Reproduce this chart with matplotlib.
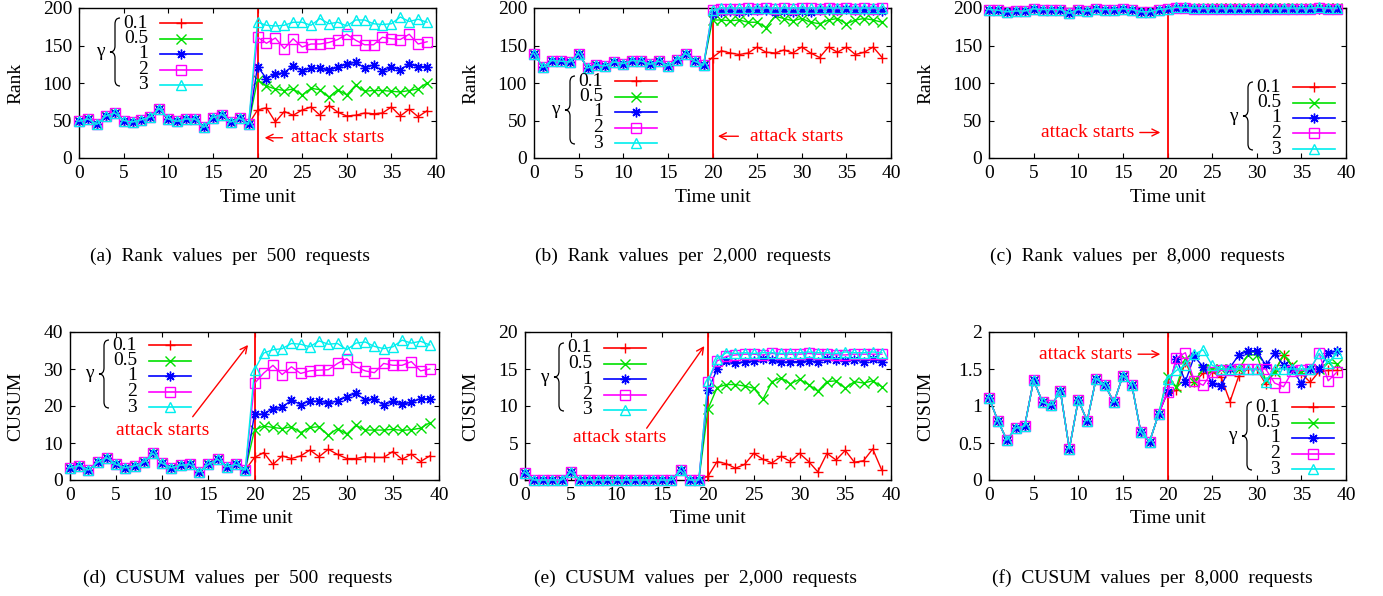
import numpy as np
import matplotlib
matplotlib.use("Agg")
import matplotlib.pyplot as plt
from matplotlib.lines import Line2D
from matplotlib.path import Path
from matplotlib.patches import PathPatch
from matplotlib.ticker import FuncFormatter

plt.rcParams["font.family"] = ["Liberation Serif", "DejaVu Serif"]

W, H = 1383, 596

# time units and attack start
t = np.arange(40)
attack_t = 20
gammas = ["0.1", "0.5", "1", "2", "3"]

# (a) rank per 500 requests
a_pre = [49, 52, 45, 56, 60, 50, 48, 51, 55, 66, 52, 49, 52, 52, 41, 54, 58, 48, 53, 45]
a_g01 = [64, 67, 48, 62, 57, 64, 68, 57, 70, 61, 56, 57, 60, 59, 60, 68, 56, 65, 55, 63]
a_g05 = [104, 96, 92, 90, 92, 84, 93, 91, 81, 91, 84, 97, 89, 90, 90, 89, 88, 90, 92, 100]
a_g1 = [122, 106, 112, 114, 123, 116, 120, 120, 117, 121, 125, 128, 120, 124, 116, 121, 118, 125, 122, 122]
a_g2 = [161, 153, 160, 146, 159, 148, 152, 152, 154, 158, 165, 157, 151, 151, 161, 159, 158, 165, 152, 155]
a_g3 = [181, 177, 176, 177, 181, 181, 177, 186, 179, 181, 176, 184, 184, 179, 178, 179, 188, 182, 185, 181]

# (b) rank per 2,000 requests
b_pre = [139, 121, 130, 129, 128, 139, 120, 124, 123, 128, 126, 130, 129, 125, 129, 123, 131, 139, 129, 124]
b_g01 = [134, 143, 140, 138, 140, 148, 141, 140, 144, 140, 148, 140, 134, 148, 141, 148, 138, 141, 148, 134]
b_g05 = [184, 184, 183, 184, 181, 181, 174, 189, 186, 183, 186, 181, 179, 184, 186, 179, 184, 186, 184, 181]
b_g1 = [192, 195, 196, 195, 196, 198, 197, 195, 196, 195, 196, 195, 197, 198, 198, 199, 198, 197, 198, 196]
b_g2 = [198, 199, 199, 199, 200, 199, 200, 199, 200, 199, 200, 200, 199, 200, 199, 200, 199, 200, 199, 200]
b_g3 = [197, 200, 200, 200, 200, 200, 200, 200, 200, 200, 200, 200, 200, 200, 200, 200, 200, 200, 200, 200]

# (c) rank per 8,000 requests
c_pre = [198, 197, 195, 196, 196, 199, 198, 198, 198, 193, 198, 196, 199, 198, 198, 199, 198, 195, 195, 198]
c_g01 = [199, 200, 200, 199, 200, 200, 200, 199, 200, 200, 200, 200, 200, 199, 200, 200, 200, 200, 200, 200]
c_g05 = [199, 200, 200, 200, 199, 200, 200, 200, 200, 199, 200, 200, 200, 200, 200, 199, 200, 200, 200, 200]
c_g1 = [199, 200, 200, 199, 199, 199, 199, 199, 199, 199, 199, 199, 199, 199, 199, 199, 199, 199, 199, 199]
c_g2 = [199, 200, 200, 199, 199, 199, 199, 199, 199, 199, 199, 199, 199, 199, 199, 199, 199, 200, 199, 199]
c_g3 = [199, 201, 201, 200, 200, 200, 200, 200, 200, 200, 200, 200, 200, 200, 200, 200, 200, 201, 200, 200]

# (d) CUSUM per 500 requests
d_pre = [3.3, 3.9, 2.7, 4.8, 6.0, 4.2, 3.3, 3.8, 4.8, 7.2, 4.5, 3.3, 4.0, 4.2, 2.2, 4.2, 5.6, 3.6, 4.2, 2.7]
d_g01 = [6.1, 7.4, 4.2, 6.5, 5.8, 6.5, 8.1, 6.3, 8.3, 6.9, 5.8, 5.8, 6.3, 6.1, 6.1, 7.7, 5.6, 7.0, 5.0, 6.5]
d_g05 = [13.5, 14.6, 14.2, 13.9, 14.4, 12.8, 14.2, 14.4, 12.1, 13.9, 12.4, 14.8, 13.5, 13.5, 13.5, 13.7, 13.4, 13.6, 14.0, 15.5]
d_g1 = [17.8, 17.8, 19.3, 19.6, 21.6, 20.4, 21.3, 21.3, 20.9, 21.3, 22.5, 23.4, 21.6, 22.0, 20.2, 21.3, 20.5, 21.0, 22.0, 22.0]
d_g2 = [26.1, 28.9, 31.0, 28.5, 30.6, 28.8, 29.5, 29.7, 29.8, 31.5, 32.8, 30.6, 29.5, 29.0, 31.5, 31.0, 31.0, 32.0, 29.5, 30.0]
d_g3 = [29.8, 34.3, 35.2, 35.5, 36.9, 36.7, 36.0, 37.6, 36.7, 36.9, 35.2, 37.0, 37.3, 36.1, 35.5, 36.0, 37.8, 37.0, 37.5, 36.5]

# (e) CUSUM per 2,000 requests
e_pre = [1.0, 0, 0, 0, 0, 1.1, 0, 0, 0, 0, 0, 0, 0, 0, 0, 0, 0, 1.3, 0, 0]
e_g01 = [0.5, 2.5, 2.2, 1.6, 2.1, 3.6, 2.8, 2.3, 3.2, 2.5, 3.6, 2.5, 1.1, 3.6, 2.7, 4.0, 2.4, 2.6, 4.2, 1.3]
e_g05 = [9.6, 12.5, 12.9, 12.9, 12.7, 12.4, 10.9, 13.3, 13.8, 13.0, 13.6, 12.9, 12.0, 13.3, 13.4, 12.4, 13.3, 13.1, 13.4, 12.6]
e_g1 = [12.1, 15.0, 16.1, 15.8, 16.0, 16.1, 16.3, 16.2, 15.9, 16.0, 16.0, 16.1, 16.0, 16.3, 16.2, 16.1, 16.2, 16.0, 16.3, 16.0]
e_g2 = [13.3, 16.1, 16.7, 16.9, 17.0, 17.0, 16.9, 17.1, 17.0, 17.0, 17.0, 17.1, 17.0, 17.0, 16.9, 16.9, 17.0, 17.0, 17.0, 17.0]
e_g3 = [13.4, 16.4, 17.2, 17.1, 17.2, 17.1, 17.2, 17.2, 17.1, 17.2, 17.2, 17.3, 17.2, 17.2, 17.1, 17.3, 17.2, 17.2, 17.3, 17.2]

# (f) CUSUM per 8,000 requests
f_pre = [1.11, 0.80, 0.54, 0.70, 0.73, 1.35, 1.05, 1.01, 1.20, 0.42, 1.08, 0.80, 1.37, 1.28, 1.05, 1.41, 1.29, 0.65, 0.52, 0.89]
f_g01 = [1.18, 1.21, 1.60, 1.33, 1.44, 1.46, 1.39, 1.06, 1.41, 1.50, 1.50, 1.30, 1.47, 1.69, 1.53, 1.44, 1.32, 1.47, 1.48, 1.48]
f_g05 = [1.39, 1.26, 1.64, 1.33, 1.50, 1.50, 1.50, 1.50, 1.50, 1.69, 1.69, 1.35, 1.46, 1.69, 1.55, 1.46, 1.50, 1.50, 1.59, 1.57]
f_g1 = [1.19, 1.64, 1.33, 1.67, 1.53, 1.31, 1.27, 1.52, 1.69, 1.74, 1.75, 1.55, 1.71, 1.55, 1.50, 1.30, 1.50, 1.50, 1.71, 1.75]
f_g2 = [1.19, 1.65, 1.72, 1.34, 1.28, 1.46, 1.48, 1.48, 1.50, 1.50, 1.50, 1.50, 1.31, 1.26, 1.47, 1.48, 1.50, 1.71, 1.34, 1.46]
f_g3 = [1.37, 1.48, 1.55, 1.70, 1.76, 1.55, 1.50, 1.50, 1.50, 1.50, 1.50, 1.33, 1.50, 1.50, 1.50, 1.50, 1.50, 1.71, 1.58, 1.71]

captions = [
    "(a)  Rank  values  per  500  requests",
    "(b)  Rank  values  per  2,000  requests",
    "(c)  Rank  values  per  8,000  requests",
    "(d)  CUSUM  values  per  500  requests",
    "(e)  CUSUM  values  per  2,000  requests",
    "(f)  CUSUM  values  per  8,000  requests",
]

colors = ["#ff0000", "#00e000", "#0000ff", "#ff00ff", "#00eeee"]
markers = ["+", "x", (8, 2, 0), "s", "^"]

# layout: axes rect in pixels (left, top, width, height), key anchor, annotation
panels = [
    dict(pre=a_pre, post=[a_g01, a_g05, a_g1, a_g2, a_g3], rect=(79, 8, 357, 150), ymax=200, ystep=50,
         ylabel="Rank", key=(69, 15), text=(23.7, 27, "left"), tail=(22.8, 27), head=(20.8, 27), cap=(230, 256)),
    dict(pre=b_pre, post=[b_g01, b_g05, b_g1, b_g2, b_g3], rect=(534, 8, 357, 150), ymax=200, ystep=50,
         ylabel="Rank", key=(69, 73), text=(24.2, 29, "left"), tail=(22.9, 29), head=(20.6, 29), cap=(683, 256)),
    dict(pre=c_pre, post=[c_g01, c_g05, c_g1, c_g2, c_g3], rect=(989, 8, 357, 150), ymax=200, ystep=50,
         ylabel="Rank", key=(292, 79), text=(16.3, 34, "right"), tail=(16.9, 34), head=(19.2, 34), cap=(1137, 256)),
    dict(pre=d_pre, post=[d_g01, d_g05, d_g1, d_g2, d_g3], rect=(70, 332, 369, 148), ymax=40, ystep=10,
         ylabel="CUSUM", key=(67, 13), text=(10.1, 13.5, "center"), tail=(13.3, 17.1), head=(19.3, 36.5), cap=(238, 578)),
    dict(pre=e_pre, post=[e_g01, e_g05, e_g1, e_g2, e_g3], rect=(525, 332, 366, 148), ymax=20, ystep=5,
         ylabel="CUSUM", key=(67, 16), text=(10.4, 5.7, "center"), tail=(13.3, 7.0), head=(19.6, 18.1), cap=(695, 578)),
    dict(pre=f_pre, post=[f_g01, f_g05, f_g1, f_g2, f_g3], rect=(989, 332, 357, 148), ymax=2, ystep=0.5,
         ylabel="CUSUM", key=(291, 75), text=(16.1, 1.70, "right"), tail=(16.7, 1.70), head=(19.2, 1.70), cap=(1152, 578)),
]

FS = 14
KEY_FS = 14
ROW = 15.5


def fx(px):
    return px / W


def fy(py):
    return 1 - py / H


def draw_brace(fig, x_tip, x_end, y_top, y_bot):
    xm = (x_tip + x_end) / 2
    ymid = (y_top + y_bot) / 2
    r = 6
    verts = [
        (x_end, y_top), (xm, y_top), (xm, y_top + r),
        (xm, ymid - r),
        (xm, ymid), (x_tip, ymid),
        (xm, ymid), (xm, ymid + r),
        (xm, y_bot - r),
        (xm, y_bot), (x_end, y_bot),
    ]
    codes = [Path.MOVETO, Path.CURVE3, Path.CURVE3, Path.LINETO,
             Path.CURVE3, Path.CURVE3, Path.CURVE3, Path.CURVE3,
             Path.LINETO, Path.CURVE3, Path.CURVE3]
    verts = [(fx(x), fy(y)) for x, y in verts]
    fig.add_artist(PathPatch(Path(verts, codes), facecolor="none", edgecolor="black",
                             lw=0.9, transform=fig.transFigure))


def draw_key(fig, rect, key):
    x_lab = rect[0] + key[0]
    y0 = rect[1] + key[1]
    for i, g in enumerate(gammas):
        y = y0 + i * ROW
        fig.text(fx(x_lab), fy(y), g, ha="right", va="center", fontsize=KEY_FS)
        fig.add_artist(Line2D([fx(x_lab + 12), fx(x_lab + 54)], [fy(y), fy(y)],
                              color=colors[i], lw=1.2, transform=fig.transFigure))
        fig.add_artist(Line2D([fx(x_lab + 33)], [fy(y)], color=colors[i], marker=markers[i],
                              ms=7, mew=1.0, mfc="none", transform=fig.transFigure))
    y_last = y0 + 4 * ROW
    draw_brace(fig, x_lab - 38, x_lab - 28, y0 - 5, y_last + 1)
    fig.text(fx(x_lab - 48), fy((y0 - 5 + y_last + 1) / 2), "γ", ha="center", va="center", fontsize=FS)


fig = plt.figure(figsize=(W / 100, H / 100), dpi=100)

for p in panels:
    left, top, w, h = p["rect"]
    ax = fig.add_axes([fx(left), fy(top + h), w / W, h / H])
    for i in range(5):
        y = list(p["pre"]) + list(p["post"][i])
        ax.plot(t, y, color=colors[i], lw=1.0, marker=markers[i], ms=7, mew=1.0,
                mfc="none", clip_on=False, zorder=3 + i)
    ax.axvline(attack_t, color="red", lw=1.3, zorder=2)

    tx, ty, ha = p["text"]
    ax.text(tx, ty, "attack starts", color="red", fontsize=FS, ha=ha, va="center")
    ax.annotate("", xy=p["head"], xytext=p["tail"],
                arrowprops=dict(arrowstyle="->,head_length=0.5,head_width=0.25", color="red", lw=1.0,
                                shrinkA=0, shrinkB=0))

    ax.set_xlim(0, 40)
    ax.set_ylim(0, p["ymax"])
    ax.set_xticks(np.arange(0, 41, 5))
    ax.set_yticks(np.arange(0, p["ymax"] + p["ystep"] / 2, p["ystep"]))
    ax.yaxis.set_major_formatter(FuncFormatter(lambda v, pos: "%g" % v))
    ax.tick_params(direction="in", top=True, right=True, length=3.6, width=0.8,
                   labelsize=FS, pad=5)
    for s in ax.spines.values():
        s.set_linewidth(1.0)

    ax.set_xlabel("Time unit", fontsize=FS)
    ax.xaxis.set_label_coords(0.5, -(197 - 158) / 150)
    ax.xaxis.label.set_va("center")
    ax.set_ylabel(p["ylabel"], fontsize=FS)
    # ylabel centred ~16 px from the left of each subfigure column
    col_left = (left // 455) * 455
    ax.yaxis.set_label_coords(-(left - col_left - 16) / w, 0.5)
    ax.yaxis.label.set_va("center")

    draw_key(fig, p["rect"], p["key"])

for p, cap in zip(panels, captions):
    fig.text(fx(p["cap"][0]), fy(p["cap"][1]), cap, ha="center", va="center", fontsize=FS)

fig.savefig("out.png", dpi=100)
